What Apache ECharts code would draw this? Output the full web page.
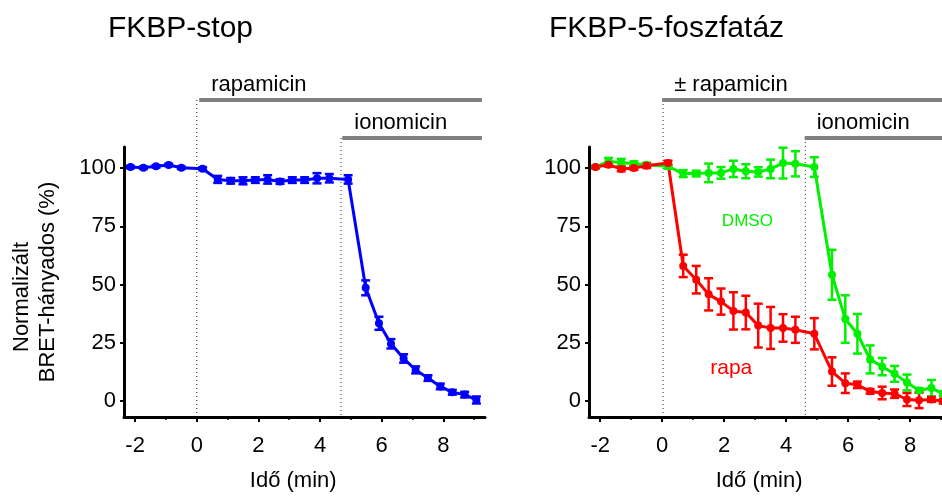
<!DOCTYPE html>
<html><head><meta charset="utf-8">
<script src="https://cdn.jsdelivr.net/npm/echarts@6/dist/echarts.min.js"></script>
<style>html,body{margin:0;padding:0;background:#fff}#c{width:942px;height:497px}</style>
</head><body><div id="c"></div>
<script>
// ---- data ----
const time = [-2.15,-1.73,-1.32,-0.91,-0.5,0.19,0.68,1.1,1.5,1.9,2.3,2.7,3.1,3.5,3.9,4.3,4.91,5.48,5.91,6.3,6.71,7.1,7.5,7.9,8.29,8.69,9.07];
const stopMean = [100.4,100.1,100.7,101.3,100.1,99.7,95.1,94.5,94.5,94.8,95.1,94.2,94.8,94.8,95.6,95.6,95.1,48.6,33.4,24.6,18.3,13.4,9.9,6.3,3.8,2.8,0.5];
const stopErr  = [0.5,0.5,0.5,0.5,0.5,0.6,1.5,1.2,1.5,1.2,1.8,1.0,1.2,1.2,2.2,1.8,1.8,3.2,2.8,2.0,1.8,1.5,1.2,1.2,1.0,1.2,1.5];
const dmsoMean = [100.4,102.8,102.4,101.8,101.4,100.7,97.6,97.6,97.9,97.9,99.6,98.6,98.3,99.6,102.1,101.8,100.4,54.2,35.2,28.9,17.9,14.8,11.7,8.0,4.6,5.6,3.2];
const dmsoErr  = [0.5,1.5,1.5,1.0,0.8,1.0,1.5,1.2,4.0,2.5,3.5,3.0,2.0,4.0,6.6,5.4,4.2,10.7,10.2,8.5,6.0,3.7,3.4,3.4,1.0,3.5,1.0];
const rapaMean = [100.4,101.4,99.6,100.0,101.0,102.1,58.0,52.1,45.8,42.7,38.7,38.0,32.4,31.4,31.4,30.6,28.9,12.7,7.7,7.0,4.2,3.5,3.2,0.7,0.4,0.7,0.0];
const rapaErr  = [0.5,0.8,1.0,0.8,1.0,1.0,4.8,5.9,6.9,5.6,8.0,7.2,9.4,9.0,5.9,5.6,6.7,6.1,4.2,1.4,1.0,2.7,1.8,2.8,3.4,1.0,1.0];
const xTickLabels = [-2,0,2,4,6,8];
const xMinorTicks = [-1,1,3,5,7,9];
const yTickLabels = [0,25,50,75,100];
const leftBars  = [{x0:0.08, x1:9.25, dot:0.0,  row:0, text:'rapamicin'}, {x0:4.72, x1:9.25, dot:4.68, row:1, text:'ionomicin'}];
const rightBars = [{x0:0.0,  x1:9.6,  dot:0.03, row:0, text:'± rapamicin'}, {x0:4.6, x1:9.6, dot:4.62, row:1, text:'ionomicin'}];
const inPlotLabels = [{x:2.75, y:77, text:'DMSO', color:'#00f000', size:17}, {x:2.23, y:14, text:'rapa', color:'#ff0000', size:21}];

// ---- styles ----
const FONT = 'Liberation Sans, Arial, sans-serif';
const BLUE = '#0000ff', GREEN = '#00f000', RED = '#ff0000';
const X_MIN = -2.36, X_MAX_L = 9.35, X_MAX_R = 9.03, Y_MIN = -6.8, Y_MAX = 109;
const ROW_OFFSET = [47, 9];

function xMain(gi, xmax){
  return {type:'value', gridIndex:gi, position:'bottom', min:X_MIN, max:xmax,
    axisLine:{onZero:false, lineStyle:{color:'#000', width:3}},
    axisTick:{customValues:xTickLabels, length:5, lineStyle:{color:'#000', width:2}},
    axisLabel:{customValues:xTickLabels, fontSize:22, color:'#000', margin:18, fontFamily:FONT},
    splitLine:{show:false},
    name:'Idő (min)', nameLocation:'middle', nameGap:53,
    nameTextStyle:{fontSize:22, color:'#000', fontFamily:FONT, padding:[0,2*(31*((X_MIN+xmax)/2-3.13)),0,0]}};
}
function xMinor(gi, xmax){
  return {type:'value', gridIndex:gi, position:'bottom', min:X_MIN, max:xmax,
    axisLine:{show:false, onZero:false},
    axisTick:{customValues:xMinorTicks.filter(v=>v<=xmax), length:3, lineStyle:{color:'#000', width:1.5}},
    axisLabel:{show:false}, splitLine:{show:false}};
}
function yAx(gi, withName){
  const a = {type:'value', gridIndex:gi, min:Y_MIN, max:Y_MAX,
    axisLine:{show:true, onZero:false, lineStyle:{color:'#000', width:3}},
    axisTick:{show:true, customValues:yTickLabels, length:4, lineStyle:{color:'#000', width:2}},
    axisLabel:{customValues:yTickLabels, fontSize:22, color:'#000', margin:8, fontFamily:FONT},
    splitLine:{show:false}};
  if (withName) {
    a.name = '{a|Normalizált}\n{b|BRET-hányados (%)}';
    a.nameLocation = 'middle';
    a.nameGap = 63;
    a.nameTextStyle = {fontSize:22, lineHeight:26, color:'#000', fontFamily:FONT,
      rich:{a:{fontSize:22, lineHeight:26, fontFamily:FONT, color:'#000', padding:[0,30,0,0]},
            b:{fontSize:22, lineHeight:26, fontFamily:FONT, color:'#000'}}};
  }
  return a;
}
function errSeries(xi, yi, color, mean, err){
  return {type:'custom', xAxisIndex:xi, yAxisIndex:yi, z:2,
    data: time.map((t,i)=>[t, mean[i]-err[i], mean[i]+err[i]]),
    encode:{x:0, y:[1,2]},
    renderItem(params, api){
      const x = api.value(0);
      const top = api.coord([x, api.value(2)]);
      const bot = api.coord([x, api.value(1)]);
      const cw = 4.5;
      const st = {stroke:color, lineWidth:2.5, fill:null};
      return {type:'group', children:[
        {type:'line', shape:{x1:top[0], y1:top[1], x2:bot[0], y2:bot[1]}, style:st},
        {type:'line', shape:{x1:top[0]-cw, y1:top[1], x2:top[0]+cw, y2:top[1]}, style:st},
        {type:'line', shape:{x1:bot[0]-cw, y1:bot[1], x2:bot[0]+cw, y2:bot[1]}, style:st}
      ]};
    }};
}
function lineSeries(xi, yi, color, mean){
  return {type:'line', xAxisIndex:xi, yAxisIndex:yi, z:3, clip:false,
    data: time.map((t,i)=>[t, mean[i]]),
    symbol:'circle', symbolSize:8, showSymbol:true,
    lineStyle:{color:color, width:3}, itemStyle:{color:color}};
}
function annotSeries(xi, yi, bars){
  return {type:'custom', xAxisIndex:xi, yAxisIndex:yi, clip:false, z:1, silent:true,
    data: bars.map(b=>[b.x0, b.x1]),
    renderItem(params, api){
      const b = bars[params.dataIndex];
      const cs = params.coordSys;
      const p0 = api.coord([b.x0, 0]), p1 = api.coord([b.x1, 0]), pd = api.coord([b.dot, 0]);
      const y = cs.y - ROW_OFFSET[b.row];
      return {type:'group', children:[
        {type:'line', shape:{x1:pd[0], y1:y, x2:pd[0], y2:cs.y+cs.height-2}, style:{stroke:'#333', lineWidth:1, lineDash:[1,3]}},
        {type:'line', shape:{x1:p0[0], y1:y, x2:p1[0], y2:y}, style:{stroke:'#808080', lineWidth:4}},
        {type:'text', x:p0[0]+12, y:y-15, style:{text:b.text, fontSize:22, fontFamily:FONT, fill:'#000', align:'left', verticalAlign:'middle'}}
      ]};
    }};
}
function labelSeries(xi, yi, labels){
  return {type:'custom', xAxisIndex:xi, yAxisIndex:yi, clip:false, z:4, silent:true,
    data: labels.map(l=>[l.x, l.y]),
    renderItem(params, api){
      const l = labels[params.dataIndex];
      const p = api.coord([api.value(0), api.value(1)]);
      return {type:'text', x:p[0], y:p[1], style:{text:l.text, fontSize:l.size, fontFamily:FONT, fill:l.color, align:'center', verticalAlign:'middle'}};
    }};
}

const chart = echarts.init(document.getElementById('c'), null, {renderer:'canvas'});
chart.setOption({
  animation:false,
  backgroundColor:'#fff',
  title:[
    {text:'FKBP-stop', left:108, top:14, padding:0, textStyle:{fontSize:30, fontWeight:'normal', color:'#000', fontFamily:FONT}},
    {text:'FKBP-5-foszfatáz', left:549, top:14, padding:0, textStyle:{fontSize:30, fontWeight:'normal', color:'#000', fontFamily:FONT}}
  ],
  grid:[
    {left:124, top:147, width:361, height:274},
    {left:589, top:147, right:0, height:274}
  ],
  xAxis:[xMain(0, X_MAX_L), xMinor(0, X_MAX_L), xMain(1, X_MAX_R), xMinor(1, X_MAX_R)],
  yAxis:[yAx(0, true), yAx(1, false)],
  series:[
    annotSeries(0, 0, leftBars),
    errSeries(0, 0, BLUE, stopMean, stopErr),
    lineSeries(0, 0, BLUE, stopMean),
    annotSeries(2, 1, rightBars),
    errSeries(2, 1, GREEN, dmsoMean, dmsoErr),
    lineSeries(2, 1, GREEN, dmsoMean),
    errSeries(2, 1, RED, rapaMean, rapaErr),
    lineSeries(2, 1, RED, rapaMean),
    labelSeries(2, 1, inPlotLabels)
  ]
});
</script></body></html>
